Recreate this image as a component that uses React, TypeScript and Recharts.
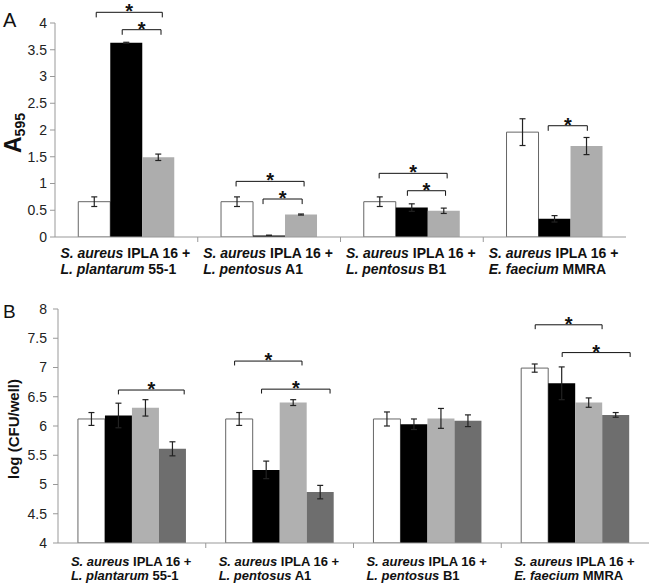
import React from 'react';
import { ComposedChart, Bar, XAxis, YAxis, ErrorBar, ReferenceLine } from 'recharts';

const FONT = "'Liberation Sans', Arial, Helvetica, sans-serif";

// categories and their two-line labels
const categories = ['IPLA16+55-1', 'IPLA16+A1', 'IPLA16+B1', 'IPLA16+MMRA'];
const labelHost = 'S. aureus';
const labelHostStrain = ' IPLA 16 +';
const labelPartner = ['L. plantarum', 'L. pentosus', 'L. pentosus', 'E. faecium'];
const labelPartnerStrain = [' 55-1', ' A1', ' B1', ' MMRA'];

// tick labels
const ticksA = [0, 0.5, 1, 1.5, 2, 2.5, 3, 3.5, 4];
const ticksB = [4, 4.5, 5, 5.5, 6, 6.5, 7, 7.5, 8];

// Panel A (A595)
const aWhite = [0.66, 0.66, 0.66, 1.96];
const aWhiteErr = [0.09, 0.09, 0.09, 0.25];
const aBlack = [3.63, 0.03, 0.55, 0.34];
const aBlackErr = [0.01, 0.005, 0.07, 0.06];
const aGray = [1.49, 0.42, 0.49, 1.7];
const aGrayErr = [0.06, 0.01, 0.05, 0.16];

// Panel B (log CFU/well)
const bWhite = [6.12, 6.12, 6.12, 6.99];
const bWhiteErr = [0.11, 0.11, 0.12, 0.07];
const bBlack = [6.18, 5.25, 6.03, 6.73];
const bBlackErr = [0.21, 0.15, 0.09, 0.28];
const bLight = [6.31, 6.4, 6.13, 6.4];
const bLightErr = [0.14, 0.05, 0.17, 0.08];
const bDark = [5.61, 4.87, 6.09, 6.19];
const bDarkErr = [0.12, 0.115, 0.1, 0.04];

// significance brackets: category index, from/to in bar-slot units, level in data units
type Bracket = { cat: number; from: number; to: number; level: number };
const bracketsA: Bracket[] = [
  { cat: 0, from: 0.06, to: 2.12, level: 4.2 },
  { cat: 0, from: 0.87, to: 2.08, level: 3.875 },
  { cat: 1, from: -0.03, to: 2.09, level: 1.04 },
  { cat: 1, from: 0.81, to: 2.03, level: 0.71 },
  { cat: 2, from: -0.02, to: 2.1, level: 1.19 },
  { cat: 2, from: 0.86, to: 2.05, level: 0.865 },
  { cat: 3, from: 0.8, to: 2.02, level: 2.08 },
];
const bracketsB: Bracket[] = [
  { cat: 0, from: 1.0, to: 3.44, level: 6.615 },
  { cat: 1, from: -0.17, to: 2.33, level: 7.11 },
  { cat: 1, from: 0.83, to: 3.37, level: 6.63 },
  { cat: 3, from: 0.02, to: 2.5, level: 7.73 },
  { cat: 3, from: 1.02, to: 3.54, level: 7.255 },
];

const dataA = categories.map((name, i) => ({
  name,
  slot: i + 0.5,
  w: aWhite[i], wE: aWhiteErr[i],
  k: aBlack[i], kE: aBlackErr[i],
  g: aGray[i], gE: aGrayErr[i],
}));
const dataB = categories.map((name, i) => ({
  name,
  slot: i + 0.5,
  w: bWhite[i], wE: bWhiteErr[i],
  k: bBlack[i], kE: bBlackErr[i],
  l: bLight[i], lE: bLightErr[i],
  d: bDark[i], dE: bDarkErr[i],
}));

const GAP_A = 0.163;
const GAP_B = 0.135;

const Star = (props: any) => {
  const vb = props.viewBox || {};
  const cx = (vb.x || 0) + (vb.width || 0) / 2;
  return (
    <text x={cx} y={(vb.y || 0) + 6} textAnchor="middle" fontSize={20} fontWeight="bold" fill="#111" fontFamily={FONT}>
      *
    </text>
  );
};

function renderBrackets(list: Bracket[], gap: number, n: number, drop: number) {
  const bw = (1 - 2 * gap) / n;
  const pos = (c: number, p: number) => c + gap + (p + 0.5) * bw;
  const out: any[] = [];
  list.forEach((b, i) => {
    const x1 = pos(b.cat, b.from);
    const x2 = pos(b.cat, b.to);
    out.push(
      <ReferenceLine key={`h${i}`} xAxisId="n" ifOverflow="visible" stroke="#111" strokeWidth={1}
        segment={[{ x: x1, y: b.level }, { x: x2, y: b.level }]} label={<Star />} />
    );
    out.push(
      <ReferenceLine key={`l${i}`} xAxisId="n" ifOverflow="visible" stroke="#111" strokeWidth={1}
        segment={[{ x: x1, y: b.level }, { x: x1, y: b.level - drop }]} />
    );
    out.push(
      <ReferenceLine key={`r${i}`} xAxisId="n" ifOverflow="visible" stroke="#111" strokeWidth={1}
        segment={[{ x: x2, y: b.level }, { x: x2, y: b.level - drop }]} />
    );
  });
  return out;
}

const CatTick = (props: any) => {
  const { x, y, payload, half, fs, l1, l2, band } = props;
  const i = categories.indexOf(payload.value);
  const off = payload && typeof payload.offset === 'number' && payload.offset > 0 ? payload.offset : band / 2;
  return (
    <g>
      {i < categories.length - 1 && (
        <line x1={x + off} x2={x + off} y1={y} y2={y + 5} stroke="#999" strokeWidth={1} />
      )}
      <text x={x - half} y={y + l1} fontSize={fs} fontWeight="bold" fill="#111" fontFamily={FONT}>
        <tspan fontStyle="italic">{labelHost}</tspan>
        <tspan>{labelHostStrain}</tspan>
      </text>
      <text x={x - half} y={y + l2} fontSize={fs} fontWeight="bold" fill="#111" fontFamily={FONT}>
        <tspan fontStyle="italic">{labelPartner[i]}</tspan>
        <tspan>{labelPartnerStrain[i]}</tspan>
      </text>
    </g>
  );
};

const YTitleA = (props: any) => {
  const vb = props.viewBox || { x: 0, y: 23, width: 55, height: 214 };
  const cx = vb.x + 21;
  const cy = vb.y + vb.height / 2 + 3;
  return (
    <text x={cx} y={cy} transform={`rotate(-90 ${cx} ${cy})`} textAnchor="middle" fontWeight="bold" fill="#111" fontFamily={FONT}>
      <tspan fontSize={23}>A</tspan>
      <tspan fontSize={14} dy={4}>595</tspan>
    </text>
  );
};

const YTitleB = (props: any) => {
  const vb = props.viewBox || { x: 0, y: 29, width: 58, height: 234 };
  const cx = vb.x + 19;
  const cy = vb.y + vb.height / 2 + 3;
  return (
    <text x={cx} y={cy} transform={`rotate(-90 ${cx} ${cy})`} textAnchor="middle" fontSize={15} fontWeight="bold" fill="#111" fontFamily={FONT}>
      log (CFU/well)
    </text>
  );
};

const axisStroke = '#999';
const tickStyle = { fontSize: 14, fill: '#222', fontFamily: FONT };

export default function App() {
  return (
    <div style={{ position: 'absolute', left: 0, top: 0, width: 650, height: 584, background: '#fff', overflow: 'hidden' }}>
      <div style={{ position: 'absolute', left: 0, top: 0 }}>
        <ComposedChart width={650} height={280} data={dataA} margin={{ top: 23, right: 24, bottom: 3, left: 0 }}
          barCategoryGap={`${GAP_A * 100}%`} barGap={0}>
          <XAxis xAxisId="c" dataKey="name" interval={0} tickLine={false} tickSize={0} tickMargin={0} height={40}
            axisLine={{ stroke: axisStroke }}
            tick={<CatTick half={66} fs={14} l1={21} l2={36.5} band={142.75} />} />
          <XAxis xAxisId="n" dataKey="slot" type="number" domain={[0, 4]} hide allowDataOverflow />
          <YAxis domain={[0, 4]} ticks={ticksA} interval={0} width={55} allowDataOverflow
            tick={tickStyle} tickSize={5} tickMargin={3}
            tickLine={{ stroke: axisStroke }} axisLine={{ stroke: axisStroke }}
            label={<YTitleA />} />
          <Bar xAxisId="c" dataKey="w" fill="#ffffff" stroke="#666" strokeWidth={1} isAnimationActive={false}>
            <ErrorBar dataKey="wE" width={3} stroke="#222" strokeWidth={1.2} />
          </Bar>
          <Bar xAxisId="c" dataKey="k" fill="#000000" isAnimationActive={false}>
            <ErrorBar dataKey="kE" width={3} stroke="#222" strokeWidth={1.2} />
          </Bar>
          <Bar xAxisId="c" dataKey="g" fill="#adadad" isAnimationActive={false}>
            <ErrorBar dataKey="gE" width={3} stroke="#222" strokeWidth={1.2} />
          </Bar>
          {renderBrackets(bracketsA, GAP_A, 3, 0.095)}
        </ComposedChart>
      </div>
      <div style={{ position: 'absolute', left: 0, top: 280 }}>
        <ComposedChart width={650} height={304} data={dataB} margin={{ top: 29, right: 1, bottom: 1, left: 0 }}
          barCategoryGap={`${GAP_B * 100}%`} barGap={0}>
          <XAxis xAxisId="c" dataKey="name" interval={0} tickLine={false} tickSize={0} tickMargin={0} height={40}
            axisLine={{ stroke: axisStroke }}
            tick={<CatTick half={61} fs={13} l1={22.5} l2={36.5} band={147.75} />} />
          <XAxis xAxisId="n" dataKey="slot" type="number" domain={[0, 4]} hide allowDataOverflow />
          <YAxis domain={[4, 8]} ticks={ticksB} interval={0} width={58} allowDataOverflow
            tick={tickStyle} tickSize={5} tickMargin={6}
            tickLine={{ stroke: axisStroke }} axisLine={{ stroke: axisStroke }}
            label={<YTitleB />} />
          <Bar xAxisId="c" dataKey="w" fill="#ffffff" stroke="#666" strokeWidth={1} isAnimationActive={false}>
            <ErrorBar dataKey="wE" width={3} stroke="#222" strokeWidth={1.2} />
          </Bar>
          <Bar xAxisId="c" dataKey="k" fill="#000000" isAnimationActive={false}>
            <ErrorBar dataKey="kE" width={3} stroke="#222" strokeWidth={1.2} />
          </Bar>
          <Bar xAxisId="c" dataKey="l" fill="#b0b0b0" isAnimationActive={false}>
            <ErrorBar dataKey="lE" width={3} stroke="#222" strokeWidth={1.2} />
          </Bar>
          <Bar xAxisId="c" dataKey="d" fill="#6e6e6e" isAnimationActive={false}>
            <ErrorBar dataKey="dE" width={3} stroke="#222" strokeWidth={1.2} />
          </Bar>
          {renderBrackets(bracketsB, GAP_B, 4, 0.075)}
        </ComposedChart>
      </div>
      <svg width={650} height={584} style={{ position: 'absolute', left: 0, top: 0, pointerEvents: 'none' }}>
        <text x={3} y={27} fontSize={20} fill="#111" fontFamily={FONT}>A</text>
        <text x={3} y={318} fontSize={19} fill="#111" fontFamily={FONT}>B</text>
      </svg>
    </div>
  );
}
